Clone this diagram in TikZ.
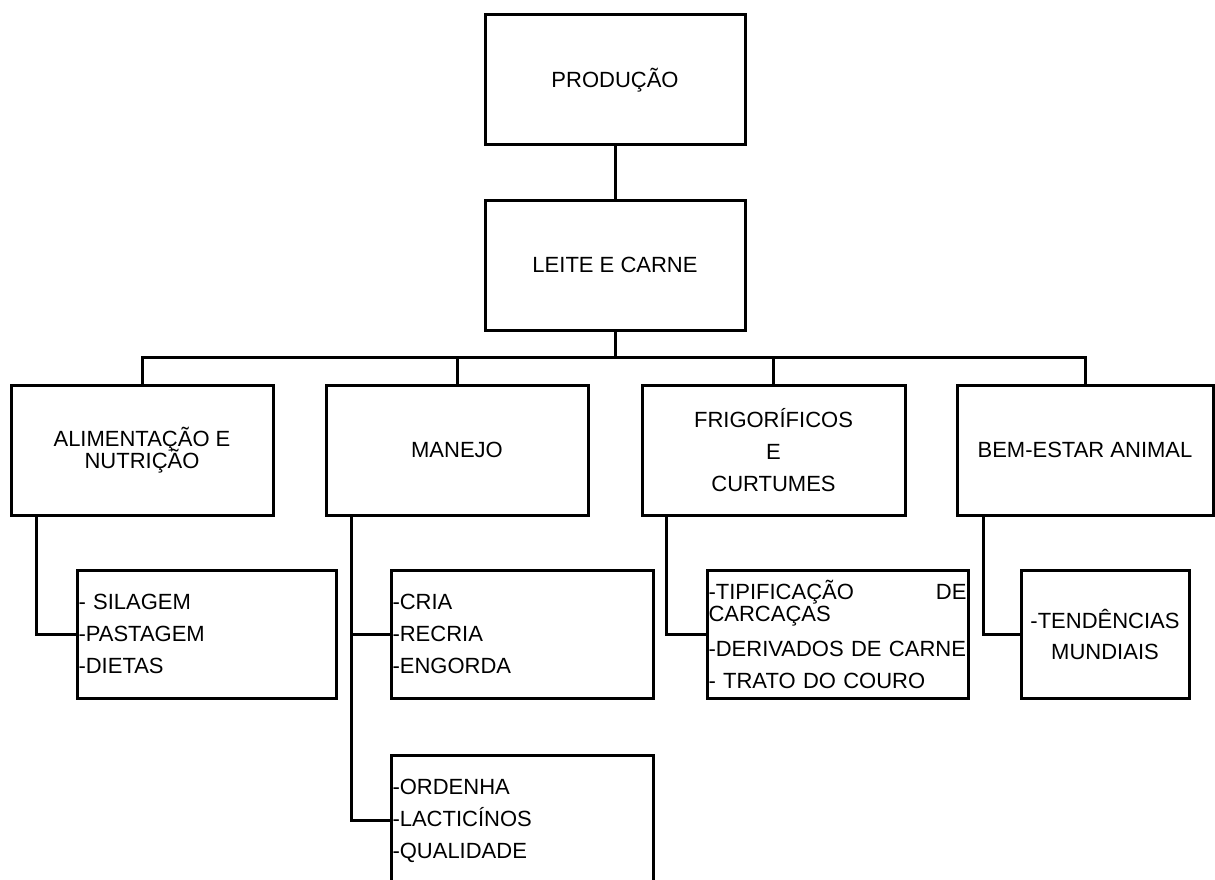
\documentclass[tikz,border=0pt]{standalone}
\usepackage{fontspec}
\setmainfont{Liberation Sans}
\begin{document}
\begin{tikzpicture}[x=1pt,y=-1pt,
  box/.style={draw,line width=3pt,inner sep=0pt,font=\fontsize{22}{32}\selectfont,align=center},
  subbox/.style={box,align=left,inner xsep=1.5pt},
  conn/.style={line width=3pt,line join=miter}]
\useasboundingbox[fill=white] (0,0) rectangle (1215,880);
% top level
\node[box,minimum width=260pt,minimum height=130pt] (prod) at (615,80) {PRODUÇÃO};
\node[box,minimum width=260pt,minimum height=130pt] (leite) at (615,265) {LEITE E CARNE};
% second level
\node[box,minimum width=262pt,minimum height=130pt] (alim) at (142,450) {ALIMENTAÇÃO E\\[-10pt]NUTRIÇÃO};
\node[box,minimum width=262pt,minimum height=130pt] (manejo) at (457,450) {MANEJO};
\node[box,minimum width=263pt,minimum height=130pt] (frig) at (773.5,450) {FRIGORÍFICOS\\E\\CURTUMES};
\node[box,minimum width=256pt,minimum height=130pt] (bem) at (1085,450) {BEM-ESTAR ANIMAL};
% third level
\node[subbox,minimum width=259pt,minimum height=128pt,text width=256pt] (sil) at (206.5,634) {- SILAGEM\\-PASTAGEM\\-DIETAS};
\node[subbox,minimum width=262pt,minimum height=128pt,text width=259pt] (cria) at (522,634) {-CRIA\\-RECRIA\\-ENGORDA};
\node[subbox,minimum width=262pt,minimum height=131pt,text width=259pt] (ord) at (522,820.5) {-ORDENHA\\-LACTICÍNOS\\-QUALIDADE};
\node[subbox,minimum width=261pt,minimum height=128pt,text width=258pt] (tipif) at (837.5,634) {\hbox to 258pt{-TIPIFICAÇÃO\hfil DE}\\[-10pt]CARCAÇAS\\[3pt]-DERIVADOS DE CARNE\\- TRATO DO COURO};
\node[box,minimum width=168pt,minimum height=128pt] (tend) at (1105,634) {-TENDÊNCIAS\\[-1pt]MUNDIAIS};
% connectors
\draw[conn] (prod.south) -- (leite.north);
\coordinate (bus) at (leite.south |- 0,357);
\draw[conn] (leite.south) -- (bus);
\draw[conn] (alim.north) |- (bus) -| (bem.north);
\draw[conn] (manejo.north) -- (manejo.north |- bus);
\draw[conn] (frig.north) -- (frig.north |- bus);
\draw[conn] ([xshift=27pt]alim.south west) |- (sil.west);
\path ([xshift=27pt]manejo.south west) coordinate (mj);
\draw[conn] (mj) |- (ord.west);
\draw[conn] (mj |- cria.west) -- (cria.west);
\draw[conn] ([xshift=26pt]frig.south west) |- (tipif.west);
\draw[conn] ([xshift=28pt]bem.south west) |- (tend.west);
\end{tikzpicture}
\end{document}
